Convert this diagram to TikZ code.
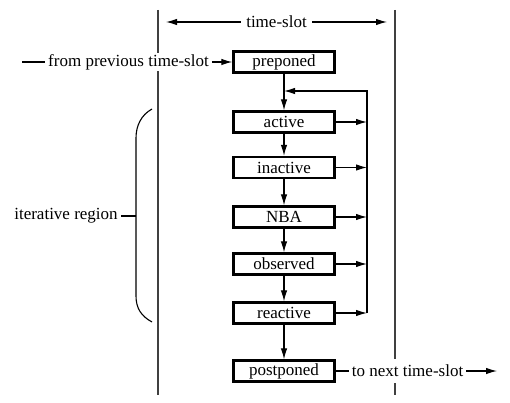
\documentclass[tikz,border=0pt]{standalone}
\usepackage{fontspec}
\setmainfont{Liberation Serif}
\usetikzlibrary{arrows.meta,positioning}

\begin{document}
\begin{tikzpicture}[x=1pt,y=-1pt,
		every node/.style={font=\fontsize{17}{20}\selectfont},
		stagebox/.style={draw, line width=2.4pt, minimum width=101pt, minimum height=21pt, inner sep=0pt},
		flow/.style={line width=1.1pt, -{Latex[length=11pt,width=6.5pt]}},
		plain/.style={line width=1.1pt},
		slotline/.style={line width=1.5pt, black!75},
		gap/.style={fill=white, inner xsep=3pt, inner ysep=1pt}]
		\useasboundingbox (0,0) rectangle (510,403);
		
		% Borders of the time-slot
		\draw[slotline] (158,10) -- (158,395);
		\draw[slotline] (395,10) -- (395,395);
		
		% The time-slot span
		\coordinate (slotL) at (166,22);
		\coordinate (slotR) at (387,22);
		\draw[flow, {Latex[length=11pt,width=6.5pt]}-{Latex[length=11pt,width=6.5pt]}] (slotL) -- node[gap, inner xsep=5pt] (slot) {time-slot} (slotR);
		
		% The stages, top to bottom
		\foreach \n/\y/\t in {pre/62/preponed, act/122/active, ina/167.5/inactive, nba/217/NBA, obs/264/observed, rea/313/reactive, post/371/postponed}
			\node[stagebox] (\n) at (284,\y) {\t};
		
		% Flow down the stages
		\foreach \a/\b in {pre/act, act/ina, ina/nba, nba/obs, obs/rea, rea/post}
			\draw[flow] (\a) -- (\b);
		
		% Loop back to active
		\coordinate (loopTop) at (367,91);
		\foreach \n in {act, ina, nba, obs, rea}
			\draw[flow] (\n.east) -- (\n.east -| loopTop);
		\draw[flow] (rea.east -| loopTop) -- (loopTop) -- (loopTop -| pre.south);
		
		% Entry and exit
		\node[gap] (from) at (128.5,62) {from previous time-slot};
		\coordinate (fromL) at (22,62);
		\draw[plain] (fromL) -- (from.west);
		\draw[flow] (from.east) -- (pre.west);
		
		\node[gap, inner ysep=6pt] (next) at (407.5,371) {to next time-slot};
		\coordinate (nextR) at (497,371);
		\draw[plain] (post.east) -- (next.west);
		\draw[flow] (next.east) -- (nextR);
		
		% Iterative region bracket
		\coordinate (braceMid) at (136,216);
		\draw[plain] (152,109) .. controls (141,115) and (136,126) .. (136,138) -- (136,296) .. controls (136,308) and (141,316) .. (152,322);
		\node (iter) at (66,216) {iterative region};
		\draw[plain] (iter.east) -- (braceMid);
	\end{tikzpicture}
\end{document}
